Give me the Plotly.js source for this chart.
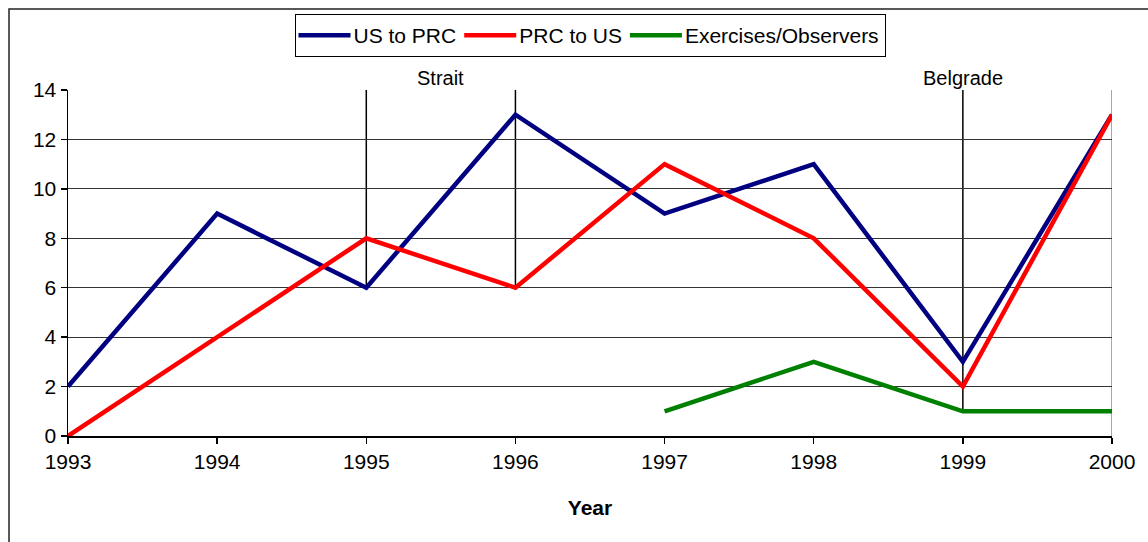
<!DOCTYPE html>
<html>
<head>
<meta charset="utf-8">
<script src="https://cdn.plot.ly/plotly-3.0.1.min.js"></script>
<style>html,body{margin:0;padding:0;background:#fff;}#chart{width:1148px;height:542px;}</style>
</head>
<body>
<div id="chart"></div>
<script>
const years = [1993, 1994, 1995, 1996, 1997, 1998, 1999, 2000];
const usToPrc = [2, 9, 6, 13, 9, 11, 3, 13];
const prcToUs = [0, 4, 8, 6, 11, 8, 2, 13];
const exerciseYears = [1997, 1998, 1999, 2000];
const exercises = [1, 3, 1, 1];
const eventYears = [1995, 1996, 1999];
const eventBottoms = [6, 6, 1];
const labelYears = [1995.5, 1999];
const labelTexts = ['Strait', 'Belgrade'];
const yTicks = [0, 2, 4, 6, 8, 10, 12, 14];

const font = 'Liberation Sans, Arial, sans-serif';
const legendItemWidth = 48;

const traces = [
  {x: years, y: usToPrc, name: 'US to PRC', mode: 'lines', line: {color: '#000080', width: 4.5}},
  {x: years, y: prcToUs, name: 'PRC to US', mode: 'lines', line: {color: '#FF0000', width: 4.5}},
  {x: exerciseYears, y: exercises, name: 'Exercises/Observers', mode: 'lines', line: {color: '#008000', width: 4.5}}
];

const shapes = [];
shapes.push({type: 'rect', xref: 'paper', yref: 'paper', x0: -0.0565, x1: 1.2, y0: 1.234, y1: -0.5,
  line: {color: '#222', width: 1.5}, layer: 'below'});
shapes.push({type: 'line', xref: 'x', yref: 'y', x0: 2000, x1: 2000, y0: 0, y1: 14,
  line: {color: '#888', width: 1.5}, layer: 'below'});
eventYears.forEach((yr, i) => {
  shapes.push({type: 'line', xref: 'x', yref: 'y', x0: yr, x1: yr, y0: eventBottoms[i], y1: 14,
    line: {color: '#000', width: 1.5}, layer: 'below'});
});

const annotations = labelYears.map((yr, i) => ({
  x: yr, xref: 'x', y: 1, yref: 'paper', yanchor: 'bottom', yshift: -1,
  text: labelTexts[i], showarrow: false, font: {family: font, size: 20, color: '#000'}
}));

const layout = {
  width: 1148, height: 542,
  margin: {l: 68, r: 36, t: 90, b: 106},
  paper_bgcolor: '#fff', plot_bgcolor: '#fff',
  font: {family: font, size: 20, color: '#000'},
  showlegend: true,
  legend: {orientation: 'h', x: 0.5, xanchor: 'center', y: 1.2197, yanchor: 'top',
    bordercolor: '#000', borderwidth: 1, bgcolor: '#fff',
    font: {family: font, size: 21, color: '#000'}, itemwidth: legendItemWidth, tracegroupgap: 0},
  xaxis: {
    range: [1993, 2000], tickvals: years, ticktext: years.map(String),
    showgrid: false, showline: true, linecolor: '#000', linewidth: 1.5,
    ticks: 'outside', ticklen: 6, tickcolor: '#000', tickwidth: 1.5,
    zeroline: false, tickfont: {family: font, size: 21},
    title: {text: '<b>Year</b>', font: {family: font, size: 21}, standoff: 28}
  },
  yaxis: {
    range: [0, 14], tickvals: yTicks, showgrid: true, gridcolor: '#333', gridwidth: 1,
    showline: true, linecolor: '#000', linewidth: 1.5,
    ticks: 'outside', ticklen: 6, tickcolor: '#000', tickwidth: 1.5,
    zeroline: false, tickfont: {family: font, size: 21}
  },
  shapes: shapes,
  annotations: annotations
};

Plotly.newPlot('chart', traces, layout, {displayModeBar: false, staticPlot: true}).then(gd => {
  gd.querySelectorAll('.legend .legendlines path').forEach(p => {
    p.setAttribute('d', 'M3,0h' + (legendItemWidth + 4));
  });
});
</script>
</body>
</html>
